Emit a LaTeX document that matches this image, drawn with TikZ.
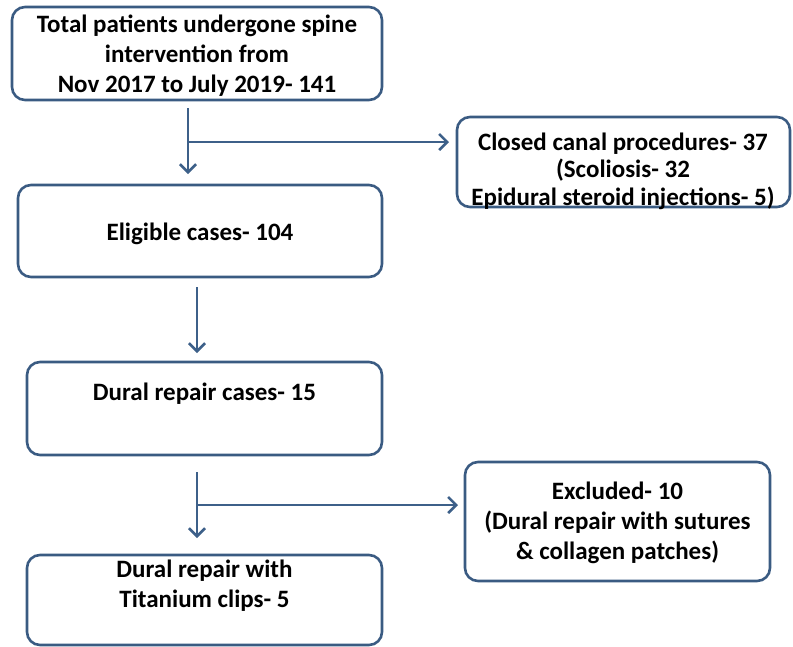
\documentclass[tikz,border=0pt]{standalone}
\usepackage{fontspec}
\setmainfont{Carlito}
\usetikzlibrary{arrows.meta}
\definecolor{boxc}{HTML}{3A5B82}
\definecolor{arrc}{HTML}{3D6089}
\tikzset{
  box/.style={draw=boxc, line width=2.6pt, rounded corners=13pt, inner sep=0pt},
  txt/.style={align=center, inner sep=0pt, font=\bfseries\fontsize{25}{30}\selectfont, text=black},
  txtb/.style={align=center, inner sep=0pt, font=\bfseries\fontsize{25}{27.5}\selectfont, text=black},
  conn/.style={draw=arrc, line width=2.6pt, -{Straight Barb[length=8pt,width=16pt,line width=2.6pt]}}
}
\begin{document}
\begin{tikzpicture}[x=1pt,y=-1pt]
\useasboundingbox (0,0) rectangle (793,646);
\begin{scope}
\clip (0,0) rectangle (793,646);
\node[box, minimum width=370pt, minimum height=93pt] (b1) at (197,53.5) {};
\node[box, minimum width=333pt, minimum height=90pt] (b2) at (623.5,162) {};
\node[box, minimum width=364pt, minimum height=92pt] (b3) at (200,231) {};
\node[box, minimum width=355pt, minimum height=93pt] (b4) at (204.5,408.5) {};
\node[box, minimum width=355pt, minimum height=90pt] (b5) at (204.5,600) {};
\node[box, minimum width=305pt, minimum height=119pt] (b6) at (617.5,521.5) {};
\end{scope}
\node[txt] (t1) at (197,56) {Total patients undergone spine\\intervention from\\Nov 2017 to July 2019- 141};
\node[txtb] (t2) at (623,171) {Closed canal procedures- 37\\(Scoliosis- 32\\Epidural steroid injections- 5)};
\node[txt] (t3) at (200,234) {Eligible cases- 104};
\node[txt] (t4) at (204.5,394) {Dural repair cases- 15};
\node[txt] (t5) at (204.5,586) {Dural repair with\\Titanium clips- 5};
\node[txt] (t6) at (617.5,523) {Excluded- 10\\(Dural repair with sutures\\\& collagen patches)};
% connectors
\coordinate (a1s) at (188,108);
\coordinate (a1e) at (188,174);
\coordinate (a1j) at (188,142);
\coordinate (a1r) at (449,142);
\draw[conn] (a1s) -- (a1e);
\draw[conn] (a1j) -- (a1r);
\coordinate (a2s) at (197,287);
\coordinate (a2e) at (197,353);
\draw[conn] (a2s) -- (a2e);
\coordinate (a3s) at (197,472);
\coordinate (a3e) at (197,538);
\coordinate (a3j) at (197,505);
\coordinate (a3r) at (458,505);
\draw[conn] (a3s) -- (a3e);
\draw[conn] (a3j) -- (a3r);
\end{tikzpicture}
\end{document}
